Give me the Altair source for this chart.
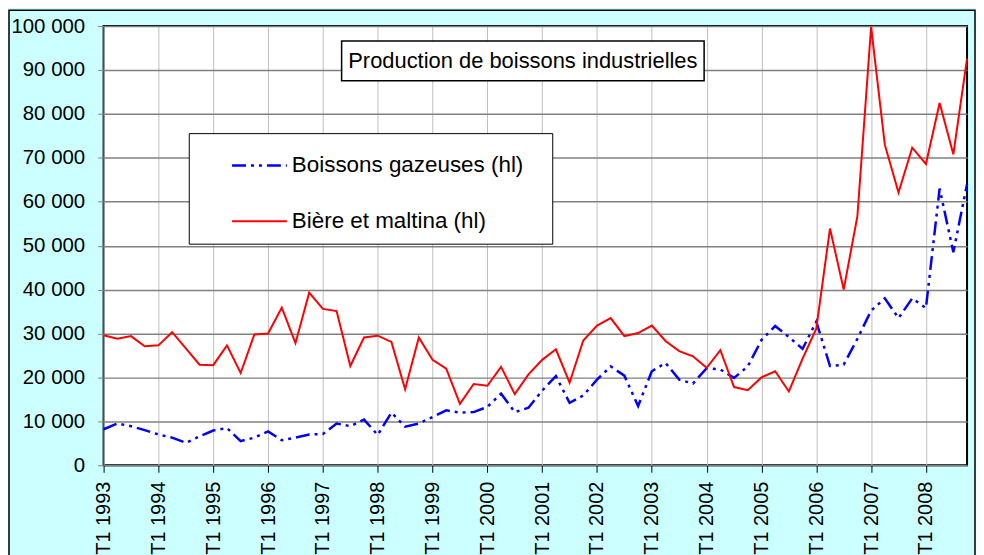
import altair as alt
import pandas as pd

years = list(range(1993, 2009))
quarters = [f"T{q} {y}" for y in years for q in range(1, 5)]
t1_labels = [f"T1 {y}" for y in years]

gazeuses = [
    8200, 9500, 8900, 8000, 7000, 6300, 5100, 6600,
    7900, 8500, 5500, 6300, 7700, 5700, 6300, 7000,
    7100, 9500, 8900, 10400, 6900, 12000, 8800, 9500,
    11000, 12500, 12000, 12100, 13300, 16300, 12100, 13100,
    17000, 20300, 14200, 15900, 19500, 22500, 20400, 13500,
    21400, 23300, 19500, 18600, 22100, 21800, 19900, 22500,
    28500, 31700, 29200, 26500, 32700, 22600, 22900, 28800,
    35200, 38000, 33500, 38000, 35800, 63000, 48500, 64000,
]
biere = [
    29600, 28800, 29400, 27100, 27300, 30300, 26600, 22900,
    22800, 27300, 21000, 29800, 30000, 35900, 27800, 39300,
    35600, 35100, 22600, 29100, 29500, 28100, 17300, 29100,
    24000, 22000, 14000, 18500, 18100, 22400, 16200, 20700,
    24000, 26400, 18800, 28400, 31800, 33500, 29400, 30100,
    31800, 28300, 26000, 24800, 22200, 26200, 17800, 17100,
    20000, 21400, 16800, 24300, 31100, 53900, 40000, 56700,
    99800, 73000, 62100, 72300, 68600, 82500, 70800, 92600,
]

series_names = ["Boissons gazeuses (hl)", "Bière et maltina (hl)"]
title_text = "Production de boissons industrielles"

df_g = pd.DataFrame({"quarter": quarters, "value": gazeuses})
df_b = pd.DataFrame({"quarter": quarters, "value": biere})
one = pd.DataFrame({"k": [0]})

FONT = "Liberation Sans"

x_enc = alt.X(
    "quarter:O",
    sort=quarters,
    scale=alt.Scale(type="point", padding=0),
    axis=alt.Axis(
        values=t1_labels,
        labelAngle=270,
        title=None,
        grid=True,
        gridColor="#C0C0C0",
        gridWidth=1,
        domain=False,
        tickColor="black",
        tickSize=7,
        labelFontSize=20,
        labelFont=FONT,
        labelColor="black",
        labelPadding=9,
    ),
)
y_enc = alt.Y(
    "value:Q",
    scale=alt.Scale(domain=[0, 100000], nice=False),
    axis=alt.Axis(
        values=list(range(0, 100001, 10000)),
        labelExpr="datum.value == 0 ? '0' : format(datum.value / 1000, 'd') + ' 000'",
        title=None,
        grid=True,
        gridColor="#808080",
        gridWidth=1.5,
        domain=False,
        tickColor="#808080",
        tickSize=6,
        labelFontSize=20.5,
        labelFont=FONT,
        labelColor="black",
        labelPadding=13,
    ),
)

line_g = alt.Chart(df_g).mark_line(
    color="#0000FF", strokeWidth=2.5, strokeDash=[14, 5, 3, 5, 3, 5]
).encode(x=x_enc, y=y_enc)
line_b = alt.Chart(df_b).mark_line(color="#FF0000", strokeWidth=2).encode(x=x_enc, y=y_enc)

frame = alt.Chart(one).mark_rect(fillOpacity=0, stroke="black", strokeWidth=1.5).encode(
    x=alt.value(-95), x2=alt.value(875), y=alt.value(-16), y2=alt.value(600)
)

title_box = alt.Chart(one).mark_rect(fill="white", stroke="black", strokeWidth=1.5).encode(
    x=alt.value(239), x2=alt.value(603), y=alt.value(15), y2=alt.value(55)
)
title_txt = alt.Chart(one).mark_text(
    align="center", baseline="middle", fontSize=22, font=FONT, color="black"
).encode(x=alt.value(421), y=alt.value(35), text=alt.value(title_text))

leg_box = alt.Chart(one).mark_rect(fill="white", stroke="black", strokeWidth=1).encode(
    x=alt.value(86), x2=alt.value(451), y=alt.value(108), y2=alt.value(219)
)
leg_g = alt.Chart(one).mark_rule(
    color="#0000FF", strokeWidth=2.5, strokeDash=[14, 5, 3, 5, 3, 5]
).encode(x=alt.value(129), x2=alt.value(184), y=alt.value(140))
leg_b = alt.Chart(one).mark_rule(color="#FF0000", strokeWidth=2).encode(
    x=alt.value(129), x2=alt.value(184), y=alt.value(196)
)
leg_tg = alt.Chart(one).mark_text(
    align="left", baseline="middle", fontSize=22.5, font=FONT, color="black"
).encode(x=alt.value(189), y=alt.value(140), text=alt.value(series_names[0]))
leg_tb = alt.Chart(one).mark_text(
    align="left", baseline="middle", fontSize=22.5, font=FONT, color="black"
).encode(x=alt.value(189), y=alt.value(196), text=alt.value(series_names[1]))

chart = alt.layer(
    line_g, line_b, frame, title_box, title_txt, leg_box, leg_g, leg_b, leg_tg, leg_tb
).properties(
    width=867,
    height=441,
    padding={"left": 96, "top": 17, "right": 9, "bottom": 100},
    autosize=alt.AutoSizeParams(type="none"),
    background="#CCFFFF",
).configure_view(fill="white", stroke="black", strokeWidth=2)

chart.save("out.html", embed_options={"renderer": "svg", "actions": False})
